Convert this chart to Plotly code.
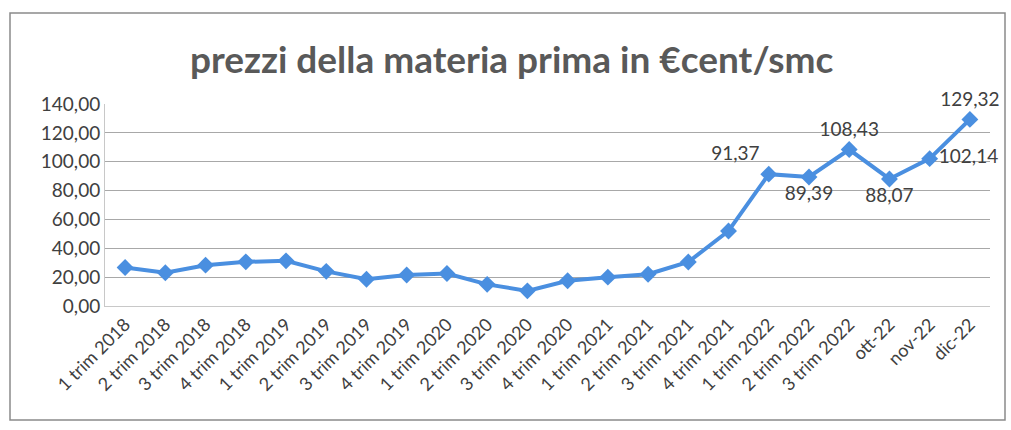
import plotly.graph_objects as go

categories = ["1 trim 2018", "2 trim 2018", "3 trim 2018", "4 trim 2018",
              "1 trim 2019", "2 trim 2019", "3 trim 2019", "4 trim 2019",
              "1 trim 2020", "2 trim 2020", "3 trim 2020", "4 trim 2020",
              "1 trim 2021", "2 trim 2021", "3 trim 2021", "4 trim 2021",
              "1 trim 2022", "2 trim 2022", "3 trim 2022", "ott-22", "nov-22", "dic-22"]
values = [26.7, 23.0, 28.3, 30.6, 31.3, 24.0, 18.5, 21.5, 22.5, 15.0, 10.5, 17.5,
          20.0, 22.0, 30.5, 52.0, 91.37, 89.39, 108.43, 88.07, 102.14, 129.32]
labelled = ["1 trim 2022", "2 trim 2022", "3 trim 2022", "ott-22", "nov-22", "dic-22"]
label_pos = ["top left", "bottom center", "top center", "bottom center", "middle right", "top center"]
y_ticks = [0, 20, 40, 60, 80, 100, 120, 140]

texts = []
positions = []
for c, v in zip(categories, values):
    if c in labelled:
        texts.append(f"{v:.2f}".replace(".", ","))
        positions.append(label_pos[labelled.index(c)])
    else:
        texts.append("")
        positions.append("top center")

FONT = "Lato, Open Sans, sans-serif"

fig = go.Figure()
fig.add_trace(go.Scatter(
    x=categories, y=values, mode="lines+markers+text",
    line=dict(color="#4A8FE0", width=4),
    marker=dict(symbol="diamond", size=13, color="#4A8FE0"),
    text=texts, textposition=positions,
    textfont=dict(family=FONT, size=19, color="#404040"),
    cliponaxis=False, showlegend=False,
))

fig.update_layout(
    width=1011, height=430,
    margin=dict(l=105, r=21, t=104, b=124),
    paper_bgcolor="white", plot_bgcolor="white",
    separators=",.",
    title=dict(text="<b>prezzi della materia prima in €cent/smc</b>",
               font=dict(family=FONT, size=37, color="#595959"),
               x=0.506, xanchor="center", xref="container",
               y=1 - 60 / 430, yanchor="middle", yref="container"),
    xaxis=dict(type="category", range=[-0.5, 21.5], tickangle=-45,
               tickfont=dict(family=FONT, size=18, color="#404040"),
               showgrid=False, showline=True, linecolor="#c8c8c8", ticks=""),
    yaxis=dict(range=[0, 140], tickvals=y_ticks, tickformat=".2f",
               tickfont=dict(family=FONT, size=19, color="#404040"),
               showgrid=True, gridcolor="#a8a8a8", gridwidth=1,
               showline=True, linecolor="#c8c8c8", zeroline=False, ticks=""),
    shapes=[dict(type="rect", xref="paper", yref="paper",
                 x0=(10 - 105) / 885, x1=(1005 - 105) / 885,
                 y0=(306 - 420) / 202, y1=(306 - 13) / 202,
                 line=dict(color="#8a8a8a", width=1.5), fillcolor="rgba(0,0,0,0)", layer="below")],
)

fig.write_html("out.html")
